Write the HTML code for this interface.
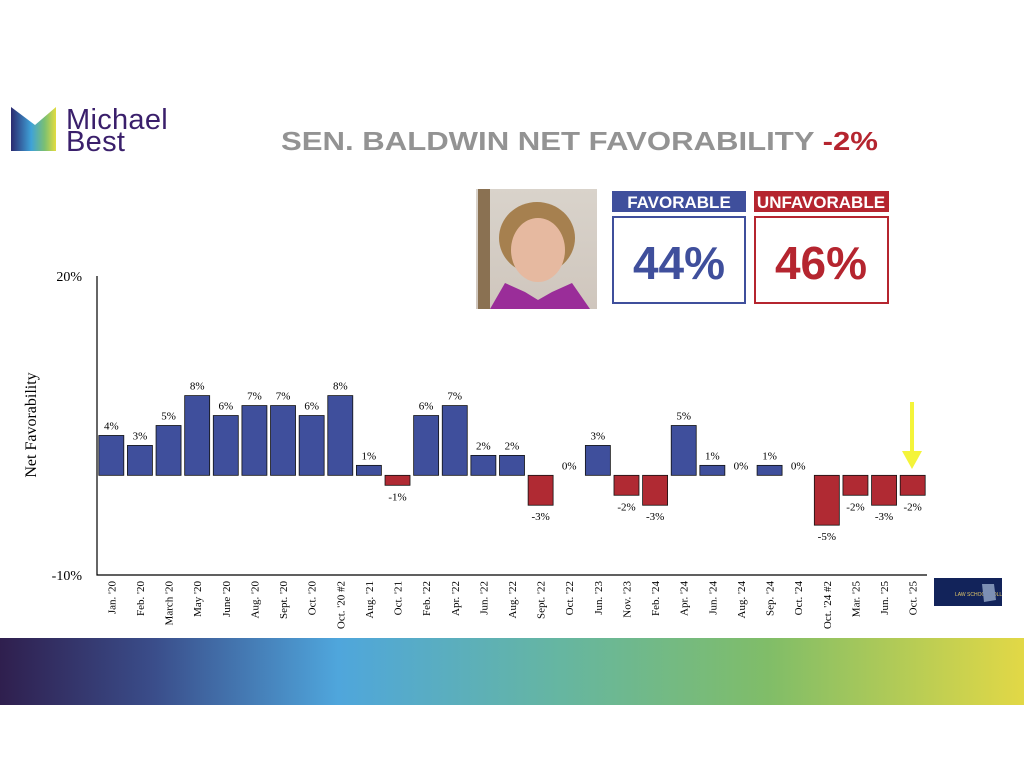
<!DOCTYPE html>
<html><head><meta charset="utf-8"><style>
body{margin:0;background:#fff;}
svg{display:block;font-family:"Liberation Serif",serif;}
</style></head><body>
<svg width="1024" height="768" viewBox="0 0 1024 768">
<defs>
<linearGradient id="band" x1="0" x2="1" y1="0" y2="0">
<stop offset="0" stop-color="#2f1f4e"/><stop offset="0.15" stop-color="#3a4d8a"/><stop offset="0.33" stop-color="#4fa6dc"/><stop offset="0.55" stop-color="#66b6a0"/><stop offset="0.75" stop-color="#80bd68"/><stop offset="1" stop-color="#e2d846"/>
</linearGradient>
<linearGradient id="logo" x1="0" x2="1" y1="0" y2="0">
<stop offset="0" stop-color="#2b2a70"/><stop offset="0.45" stop-color="#3fa2d8"/><stop offset="0.75" stop-color="#7cc071"/><stop offset="1" stop-color="#e3dc40"/>
</linearGradient>
<linearGradient id="photo" x1="0" x2="0" y1="0" y2="1">
<stop offset="0" stop-color="#d9d3cb"/><stop offset="1" stop-color="#cfc6bd"/>
</linearGradient>
</defs>
<g>
<path d="M11 107 L35 125 L56 107 L56 151 L11 151 Z" fill="url(#logo)"/>
<text x="66" y="129" font-family="Liberation Sans,sans-serif" font-size="29" letter-spacing="0.3" fill="#3a1f6b">Michael</text>
<text x="66" y="151" font-family="Liberation Sans,sans-serif" font-size="29" letter-spacing="0.3" fill="#3a1f6b">Best</text>
</g>
<text x="281" y="150" textLength="597" lengthAdjust="spacingAndGlyphs" font-family="Liberation Sans,sans-serif" font-weight="bold" font-size="26" fill="#939393">SEN. BALDWIN NET FAVORABILITY <tspan fill="#b5252f">-2%</tspan></text>
<g>
<rect x="476" y="189" width="121" height="120" fill="url(#photo)"/>
<rect x="478" y="189" width="12" height="120" fill="#8a7152"/>
<ellipse cx="537" cy="238" rx="38" ry="36" fill="#a6804f"/>
<ellipse cx="538" cy="250" rx="27" ry="32" fill="#e6b9a0"/>
<path d="M490 309 L505 283 L525 292 L538 300 L552 292 L572 283 L590 309 Z" fill="#9a2d99"/>
</g>
<g>
<rect x="612" y="191" width="134" height="21" fill="#3f4f9c"/>
<text x="679" y="208" text-anchor="middle" font-family="Liberation Sans,sans-serif" font-weight="bold" font-size="17" fill="#fff">FAVORABLE</text>
<rect x="613" y="217" width="132" height="86" fill="#fff" stroke="#3f4f9c" stroke-width="2"/>
<text x="679" y="279" text-anchor="middle" font-family="Liberation Sans,sans-serif" font-weight="bold" font-size="46" fill="#3f4f9c">44%</text>
</g>
<g>
<rect x="754" y="191" width="135" height="21" fill="#b5252f"/>
<text x="821" y="208" text-anchor="middle" font-family="Liberation Sans,sans-serif" font-weight="bold" font-size="17" fill="#fff">UNFAVORABLE</text>
<rect x="755" y="217" width="133" height="86" fill="#fff" stroke="#b5252f" stroke-width="2"/>
<text x="821" y="279" text-anchor="middle" font-family="Liberation Sans,sans-serif" font-weight="bold" font-size="46" fill="#b5252f">46%</text>
</g>
<g id="chart"></g>
<g>
<rect x="910" y="402" width="4" height="50" fill="#f4f43a"/>
<path d="M902 451 L922 451 L912 469 Z" fill="#f4f43a"/>
</g>
<g>
<rect x="934" y="578" width="68" height="28" fill="#12235a"/>
<text x="955" y="596" font-family="Liberation Sans,sans-serif" font-size="5" fill="#e5c96a">LAW SCHOOL POLL</text>
<path d="M982 584 L994 584 L996 600 L984 602 Z" fill="#7c8fb4"/>
</g>
<rect x="0" y="638" width="1024" height="67" fill="url(#band)"/>
<script>
const categories=["Jan. '20","Feb. '20","March '20","May '20","June '20","Aug. '20","Sept. '20","Oct. '20","Oct. '20 #2","Aug. '21","Oct. '21","Feb. '22","Apr. '22","Jun. '22","Aug. '22","Sept. '22","Oct. '22","Jun. '23","Nov. '23","Feb. '24","Apr. '24","Jun. '24","Aug. '24","Sep. '24","Oct. '24","Oct. '24 #2","Mar. '25","Jun. '25","Oct. '25"];
const values=[4,3,5,8,6,7,7,6,8,1,-1,6,7,2,2,-3,0,3,-2,-3,5,1,0,1,0,-5,-2,-3,-2];
const yTicks=[20,-10];
const NS="http://www.w3.org/2000/svg";
const g=document.getElementById('chart');
const x0=97,x1=927,yTop=276,yBot=575,yMax=20,yMin=-10;
const band=(x1-x0)/categories.length;
function y(v){return yTop+(yMax-v)/(yMax-yMin)*(yBot-yTop);}
function xc(i){return x0+band*(i+0.5);}
function mk(tag,attrs){const e=document.createElementNS(NS,tag);for(const k in attrs)e.setAttribute(k,attrs[k]);g.appendChild(e);return e;}
let ax=mk('path',{d:`M${x0} ${yTop} L${x0} ${yBot} L${x1} ${yBot}`,fill:'none',stroke:'#000','stroke-width':1.2});


yTicks.forEach(t=>{const e=mk('text',{x:82,y:y(t)+5,'text-anchor':'end','font-size':14,fill:'#000'});e.textContent=t+'%';

});
let yl=mk('text',{x:0,y:0,transform:`translate(36 425) rotate(-90)`,'text-anchor':'middle','font-size':16,fill:'#000'});yl.textContent='Net  Favorability';


values.forEach((v,i)=>{
 const cx=xc(i),w=25;
 if(v!==0){const r=mk('rect',{x:cx-w/2,y:Math.min(y(v),y(0)),width:w,height:Math.abs(y(v)-y(0)),fill:v>0?'#3f4f9c':'#b02a33',stroke:'#111','stroke-width':0.8});
 
 }
 const ly=v>0?y(v)-6:(v<0?y(v)+15:y(0)-6);
 const t=mk('text',{x:cx,y:ly,'text-anchor':'middle','font-size':11,fill:'#000'});t.textContent=v+'%';
 
 
 const c=mk('text',{x:0,y:0,transform:`translate(${cx+4} ${yBot+6}) rotate(-90)`,'text-anchor':'end','font-size':11,fill:'#000'});c.textContent=categories[i];
 
 
});
</script>
</svg>
</body></html>
